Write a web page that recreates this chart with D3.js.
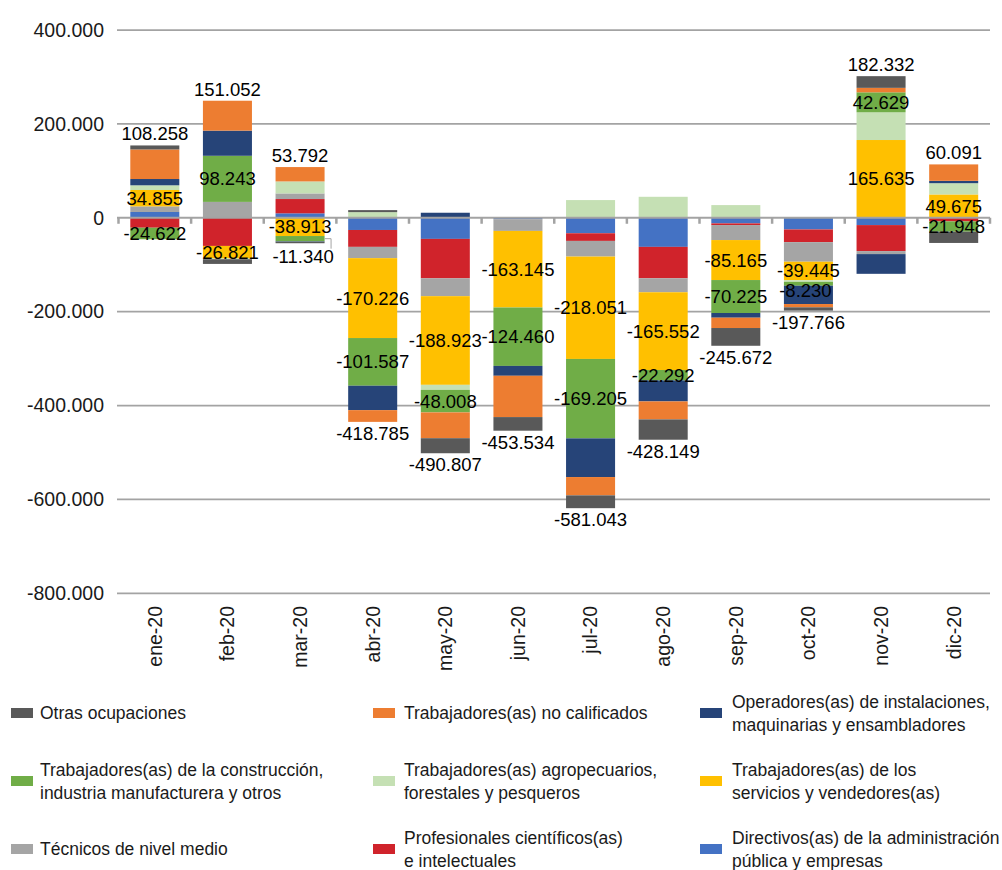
<!DOCTYPE html>
<html>
<head>
<meta charset="utf-8">
<script src="https://cdn.jsdelivr.net/npm/d3@7"></script>
<style>
  body { margin: 0; background: #fff; }
  svg { display: block; font-family: "Liberation Sans", Arial, sans-serif; }
</style>
</head>
<body>
<div id="chart"></div>
<script>
'use strict'

// meses (eje x)
const months = ["ene-20", "feb-20", "mar-20", "abr-20", "may-20", "jun-20",
                "jul-20", "ago-20", "sep-20", "oct-20", "nov-20", "dic-20"];

// variación de ocupados por grupo (personas)
const directivos    = [12300, 800, 9500, -26000, -45000, -3000, -33000, -62000, -12000, -24900, -15600, 0];
const profesionales = [-21200, -60000, 30400, -36000, -84000, 0, -16300, -66900, -3500, -27000, -55400, -7700];
const tecnicos      = [12000, 33000, 12000, -24000, -38000, -25000, -33400, -29800, -32000, -41700, -6400, 0];
const servicios     = [34855, -26821, -38913, -170226, -188923, -163145, -218051, -165552, -85165, -39445, 165635, 49675];
const agro          = [10000, -1500, 25500, 12000, -10700, 0, 37700, 44700, 27000, -3500, 59000, 24000];
const construccion  = [-24622, 98243, -11340, -101587, -48008, -124460, -169205, -22292, -70225, -8230, 42629, -21948];
const operadores    = [13400, 53600, -1000, -52000, 10700, -21000, -82400, -44700, -10000, -39000, -42000, 5000];
const noCalificados = [63000, 63700, 30600, -25000, -55000, -88000, -39000, -38300, -22000, -7000, 9500, 35000];
const otras         = [8500, -10000, -3000, 4300, -32000, -29000, -27300, -43300, -37800, -7000, 24900, -24000];

// total neto del mes
const totals = [108258, 151052, 53792, -418785, -490807, -453534, -581043, -428149, -245672, -197766, 182332, 60091];

const yTicks = [400000, 200000, 0, -200000, -400000, -600000, -800000];

// orden de apilado: desde el cero hacia afuera
const series = [
    { key: "dir",  color: "#4472C4", values: directivos,    name: ["Directivos(as) de la administración", "pública y empresas"] },
    { key: "prof", color: "#D0232B", values: profesionales, name: ["Profesionales científicos(as)", "e intelectuales"] },
    { key: "tec",  color: "#A5A5A5", values: tecnicos,      name: ["Técnicos de nivel medio"] },
    { key: "serv", color: "#FFC000", values: servicios,     name: ["Trabajadores(as) de los", "servicios y vendedores(as)"] },
    { key: "agro", color: "#C5E0B4", values: agro,          name: ["Trabajadores(as) agropecuarios,", "forestales y pesqueros"] },
    { key: "cons", color: "#70AD47", values: construccion,  name: ["Trabajadores(as) de la construcción,", "industria manufacturera y otros"] },
    { key: "oper", color: "#264478", values: operadores,    name: ["Operadores(as) de instalaciones,", "maquinarias y ensambladores"] },
    { key: "nocal",color: "#ED7D31", values: noCalificados, name: ["Trabajadores(as) no calificados"] },
    { key: "otr",  color: "#595959", values: otras,         name: ["Otras ocupaciones"] }
];
const labelled = ["serv", "cons"];

const width = 1002, height = 870;
const locale = d3.formatLocale({ decimal: ",", thousands: ".", grouping: [3], currency: ["$", ""], minus: "-" });
const fmt = locale.format(",d");

let svg = d3.select("#chart").append("svg")
    .attr("width", width)
    .attr("height", height);

let x = d3.scaleBand()
    .domain(months)
    .range([118.5, 990])
    .paddingInner(0.325)
    .paddingOuter(0.1625);

let y = d3.scaleLinear()
    .domain([-800000, 400000])
    .range([593.3, 30]);

let rows = months.map(function(m, i) {
    let r = { month: m };
    series.forEach(function(s) { r[s.key] = s.values[i]; });
    return r;
});

let stacked = d3.stack()
    .keys(series.map(function(s) { return s.key; }))
    .offset(d3.stackOffsetDiverging)(rows);

// líneas de división
svg.append("g")
    .selectAll("line")
    .data(yTicks.filter(function(d) { return d !== 0; }))
    .join("line")
    .attr("x1", 117).attr("x2", 990)
    .attr("y1", function(d) { return y(d); })
    .attr("y2", function(d) { return y(d); })
    .attr("stroke", "#A3A3A3")
    .attr("stroke-width", 1.75);

svg.append("g")
    .selectAll("text")
    .data(yTicks)
    .join("text")
    .attr("x", 104)
    .attr("y", function(d) { return y(d); })
    .attr("dy", "0.35em")
    .attr("text-anchor", "end")
    .attr("font-size", 19.5)
    .attr("fill", "#1a1a1a")
    .text(function(d) { return fmt(d); });

// barras
let layers = svg.append("g")
    .selectAll("g")
    .data(stacked)
    .join("g")
    .attr("fill", function(d, i) { return series[i].color; });

layers.selectAll("rect")
    .data(function(d) { return d; })
    .join("rect")
    .attr("x", function(d) { return x(d.data.month); })
    .attr("width", x.bandwidth())
    .attr("y", function(d) { return y(d[1]); })
    .attr("height", function(d) { return Math.max(0, y(d[0]) - y(d[1])); });

// eje en cero con marcas entre categorías
let zero = y(0);
let axis = svg.append("g");
axis.append("line")
    .attr("x1", 117).attr("x2", 990)
    .attr("y1", zero).attr("y2", zero)
    .attr("stroke", "#A3A3A3")
    .attr("stroke-width", 2);
axis.selectAll(".tick")
    .data(d3.range(months.length + 1))
    .join("line")
    .attr("class", "tick")
    .attr("x1", function(i) { return 118.5 + i * x.step(); })
    .attr("x2", function(i) { return 118.5 + i * x.step(); })
    .attr("y1", zero)
    .attr("y2", zero + 6)
    .attr("stroke", "#A3A3A3")
    .attr("stroke-width", 2.5);

// etiquetas del eje x
svg.append("g")
    .selectAll("text")
    .data(months)
    .join("text")
    .attr("transform", function(d) {
        return "translate(" + (x(d) + x.bandwidth() / 2) + ",606) rotate(-90)";
    })
    .attr("dy", "0.35em")
    .attr("text-anchor", "end")
    .attr("font-size", 19.5)
    .attr("fill", "#1a1a1a")
    .text(function(d) { return d; });

// etiquetas de segmentos (servicios y construcción)
let nudge = { "mar-20|cons": [3, 18, true], "oct-20|cons": [-3, 7, false] };
let labels = svg.append("g")
    .attr("font-size", 18.5)
    .attr("fill", "#000")
    .attr("text-anchor", "middle");

stacked.forEach(function(layer, li) {
    let key = series[li].key;
    if (labelled.indexOf(key) < 0) return;
    layer.forEach(function(d, i) {
        let cx = x(d.data.month) + x.bandwidth() / 2,
            cy = (y(d[0]) + y(d[1])) / 2,
            n = nudge[d.data.month + "|" + key] || [0, 0, false];
        if (n[2]) {
            let lx = x(d.data.month) + x.bandwidth();
            labels.append("path")
                .attr("d", "M" + lx + "," + cy + "H" + (lx + 6.5) + "V" + (cy + n[1] - 8))
                .attr("fill", "none")
                .attr("stroke", "#A3A3A3")
                .attr("stroke-width", 1);
        }
        labels.append("text")
            .attr("x", cx + n[0])
            .attr("y", cy + n[1])
            .attr("dy", "0.35em")
            .text(fmt(series[li].values[i]));
    });
});

// totales sobre / bajo cada barra
months.forEach(function(m, i) {
    let top = d3.max(stacked, function(l) { return l[i][1]; }),
        bottom = d3.min(stacked, function(l) { return l[i][0]; }),
        cx = x(m) + x.bandwidth() / 2;
    labels.append("text")
        .attr("x", cx)
        .attr("y", totals[i] >= 0 ? y(top) - 5 : y(bottom) + 18)
        .text(fmt(totals[i]));
});

// leyenda: 3 columnas, orden inverso al apilado
let legendItems = series.slice().reverse();
let colSwatch = [11, 373, 700],
    colText = [40, 404, 732],
    rowY = [713, 781, 849];

let legend = svg.append("g")
    .attr("font-size", 17.5)
    .attr("fill", "#1a1a1a");

legendItems.forEach(function(s, i) {
    let c = i % 3, r = Math.floor(i / 3),
        cy = rowY[r];
    legend.append("rect")
        .attr("x", colSwatch[c])
        .attr("y", cy - 5)
        .attr("width", 22)
        .attr("height", 10)
        .attr("fill", s.color);
    let t = legend.append("text")
        .attr("x", colText[c])
        .attr("y", cy - (s.name.length - 1) * 11.5)
        .attr("dy", "0.35em");
    s.name.forEach(function(line, k) {
        t.append("tspan")
            .attr("x", colText[c])
            .attr("dy", k === 0 ? "0.35em" : 23)
            .text(line);
    });
});
</script>
</body>
</html>
